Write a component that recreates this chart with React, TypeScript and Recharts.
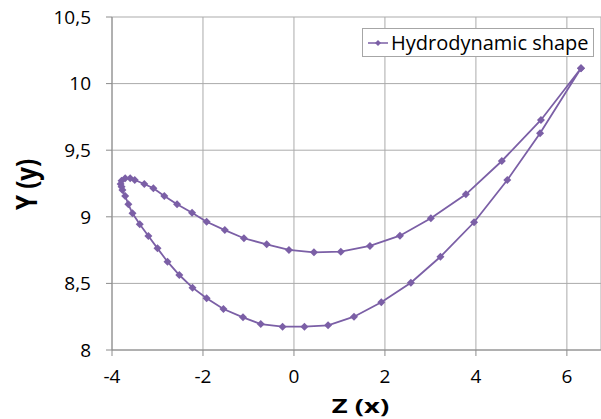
import { ScatterChart, Scatter, XAxis, YAxis, CartesianGrid, Legend } from 'recharts';

// Profile outline: trailing edge -> upper side -> leading edge -> lower side -> trailing edge
const zValues = [
  6.31, 5.43, 4.57, 3.78, 3.01, 2.33, 1.67, 1.03, 0.44, -0.11, -0.6, -1.1, -1.52, -1.92, -2.24, -2.57,
  -2.85, -3.09, -3.29, -3.5, -3.6, -3.71, -3.79, -3.81, -3.79, -3.77,
  -3.71, -3.64, -3.55, -3.39, -3.2, -3.0, -2.78, -2.52, -2.23, -1.92, -1.55, -1.12, -0.73, -0.25,
  0.23, 0.75, 1.32, 1.92, 2.57, 3.22, 3.96, 4.69, 5.41, 6.31,
];
const yValues = [
  10.115, 9.727, 9.419, 9.169, 8.989, 8.858, 8.781, 8.738, 8.733, 8.751, 8.793, 8.839, 8.9, 8.963, 9.031, 9.094,
  9.156, 9.214, 9.246, 9.276, 9.289, 9.289, 9.271, 9.246, 9.226, 9.201,
  9.156, 9.094, 9.026, 8.944, 8.856, 8.763, 8.663, 8.563, 8.468, 8.388, 8.308, 8.245, 8.195, 8.175,
  8.175, 8.185, 8.25, 8.358, 8.505, 8.7, 8.959, 9.276, 9.627, 10.115,
];
const xTicks = [-4, -2, 0, 2, 4, 6];
const yTicks = [8, 8.5, 9, 9.5, 10, 10.5];
const seriesName = 'Hydrodynamic shape';

const COLOR = '#7b5fa6';
const data = zValues.map((z, i) => ({ z, y: yValues[i] }));

const Diamond = ({ cx, cy }: any) => (
  <path d={`M${cx},${cy - 4}L${cx + 4},${cy}L${cx},${cy + 4}L${cx - 4},${cy}Z`} fill={COLOR} />
);

const LegendBox = () => (
  <div
    style={{
      border: '1px solid #a6a6a6',
      background: '#fff',
      height: 29,
      display: 'flex',
      alignItems: 'center',
      padding: '0 4px',
      boxSizing: 'border-box',
    }}
  >
    <svg width={22} height={10} style={{ marginRight: 2 }}>
      <line x1={1} y1={5} x2={21} y2={5} stroke={COLOR} strokeWidth={1.5} />
      <path d="M11,2L14,5L11,8L8,5Z" fill={COLOR} />
    </svg>
    <span style={{ fontSize: 20, color: '#000', whiteSpace: 'nowrap' }}>{seriesName}</span>
  </div>
);

const fmt = (v: number) => String(v).replace('.', ',');

export default function App() {
  return (
    <div style={{ position: 'absolute', left: 0, top: 0, fontFamily: '"Open Sans", sans-serif' }}>
      <ScatterChart width={601} height={419} margin={{ top: 17, right: 0, bottom: 0, left: 30 }}>
        <CartesianGrid stroke="#ababab" />
        <XAxis
          type="number"
          dataKey="z"
          domain={[-4, 6.75]}
          ticks={xTicks}
          allowDataOverflow
          height={69}
          stroke="#8c8c8c"
          tickSize={6}
          tickMargin={14}
          tick={{ fill: '#000', fontSize: 19 }}
          label={({ viewBox }: any) => {
            const cx = viewBox.x + viewBox.width / 2 + 4;
            return (
              <text
                x={0}
                y={0}
                textAnchor="middle"
                fontSize={20}
                fontWeight="bold"
                fill="#000"
                transform={`translate(${cx}, 413) scale(1.37, 1)`}
              >
                Z (x)
              </text>
            );
          }}
        />
        <YAxis
          type="number"
          dataKey="y"
          domain={[8, 10.5]}
          ticks={yTicks}
          allowDataOverflow
          width={82}
          stroke="#8c8c8c"
          tickSize={6}
          tickMargin={15}
          tickFormatter={fmt}
          tick={{ fill: '#000', fontSize: 19 }}
          label={({ viewBox }: any) => {
            const cy = viewBox.y + viewBox.height / 2 + 1;
            return (
              <text
                x={0}
                y={0}
                textAnchor="middle"
                fontSize={24}
                fontWeight="bold"
                fill="#000"
                transform={`translate(37, ${cy}) scale(1.18, 1) rotate(-90)`}
              >
                Y (y)
              </text>
            );
          }}
        />
        <Legend
          layout="horizontal"
          verticalAlign="middle"
          align="center"
          content={<LegendBox />}
          wrapperStyle={{ left: 362, top: 28, width: 232, height: 31 }}
        />
        <Scatter
          name={seriesName}
          data={data}
          fill={COLOR}
          line={{ stroke: COLOR, strokeWidth: 1.8 }}
          lineJointType="linear"
          shape={<Diamond />}
          isAnimationActive={false}
        />
      </ScatterChart>
    </div>
  );
}
